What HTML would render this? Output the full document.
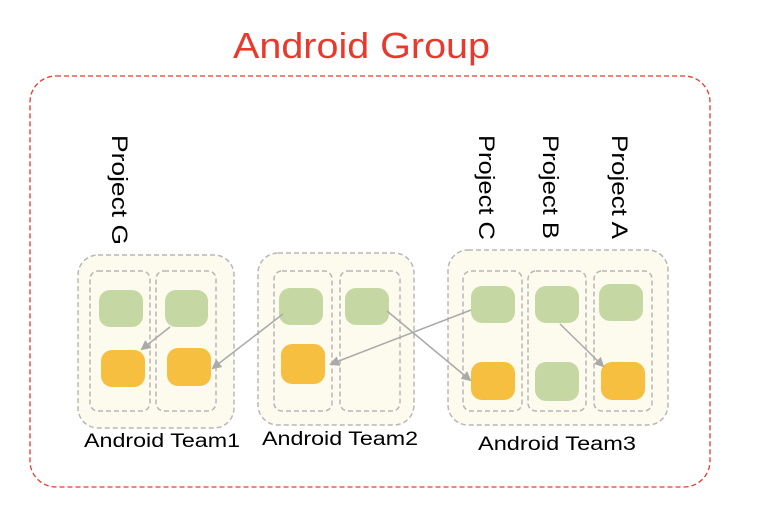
<!DOCTYPE html>
<html><head><style>body{margin:0;background:#fff}</style></head><body>
<svg width="758" height="526" xmlns="http://www.w3.org/2000/svg" font-family="Liberation Sans, sans-serif">
<defs><marker id="a" markerWidth="10" markerHeight="10" refX="8" refY="5" orient="auto" markerUnits="userSpaceOnUse"><path d="M0,0 L10,5 L0,10 z" fill="#aaa"/></marker></defs>
<text x="233" y="58" font-size="36" fill="#e8392c" textLength="257" lengthAdjust="spacingAndGlyphs">Android Group</text>
<rect x="30" y="76" width="680" height="411" rx="26" fill="none" stroke="#e8392c" stroke-width="1.3" stroke-dasharray="5,3"/>
<g fill="#fdfaee" stroke="#b8b8b8" stroke-width="1.5" stroke-dasharray="5,3">
<rect x="78" y="255" width="156" height="173" rx="20"/>
<rect x="258" y="253" width="156" height="172" rx="20"/>
<rect x="448" y="250" width="220" height="175" rx="20"/>
<rect x="90" y="271" width="60" height="140" rx="8"/>
<rect x="156" y="271" width="60" height="140" rx="8"/>
<rect x="274" y="271" width="58" height="140" rx="8"/>
<rect x="340" y="271" width="60" height="140" rx="8"/>
<rect x="463" y="271" width="59" height="140" rx="8"/>
<rect x="528" y="271" width="58" height="140" rx="8"/>
<rect x="594" y="271" width="58" height="140" rx="8"/>
</g>
<g fill="#c5d8a4">
<rect x="99" y="290" width="44" height="37" rx="11"/>
<rect x="165" y="290" width="43" height="37" rx="11"/>
<rect x="279" y="288" width="44" height="37" rx="11"/>
<rect x="345" y="288" width="44" height="37" rx="11"/>
<rect x="471" y="286" width="44" height="37" rx="11"/>
<rect x="535" y="286" width="44" height="37" rx="11"/>
<rect x="599" y="284" width="44" height="37" rx="11"/>
<rect x="535" y="362" width="44" height="39" rx="11"/>
</g>
<g fill="#f6bf40">
<rect x="101" y="350" width="44" height="37" rx="11"/>
<rect x="167" y="348" width="44" height="38" rx="11"/>
<rect x="281" y="344" width="44" height="40" rx="11"/>
<rect x="471" y="362" width="44" height="38" rx="11"/>
<rect x="601" y="362" width="44" height="38" rx="11"/>
</g>
<g stroke="#aaa" stroke-width="1.5" marker-end="url(#a)">
<line x1="170" y1="327" x2="142" y2="349"/>
<line x1="283" y1="314" x2="213" y2="368"/>
<line x1="471" y1="310" x2="331" y2="364"/>
<line x1="387" y1="311" x2="470" y2="380"/>
<line x1="560" y1="324" x2="603" y2="366"/>
</g>
<g font-size="19" fill="#000">
<text x="84" y="447" textLength="156" lengthAdjust="spacingAndGlyphs">Android Team1</text>
<text x="262" y="445" textLength="156" lengthAdjust="spacingAndGlyphs">Android Team2</text>
<text x="478" y="450" textLength="158" lengthAdjust="spacingAndGlyphs">Android Team3</text>
<g font-size="22">
<text transform="translate(112,135) rotate(90)" textLength="110" lengthAdjust="spacingAndGlyphs">Project G</text>
<text transform="translate(479,135) rotate(90)" textLength="105" lengthAdjust="spacingAndGlyphs">Project C</text>
<text transform="translate(543,135) rotate(90)" textLength="104" lengthAdjust="spacingAndGlyphs">Project B</text>
<text transform="translate(612,135) rotate(90)" textLength="104" lengthAdjust="spacingAndGlyphs">Project A</text>
</g>
</g>
</svg>
</body></html>
